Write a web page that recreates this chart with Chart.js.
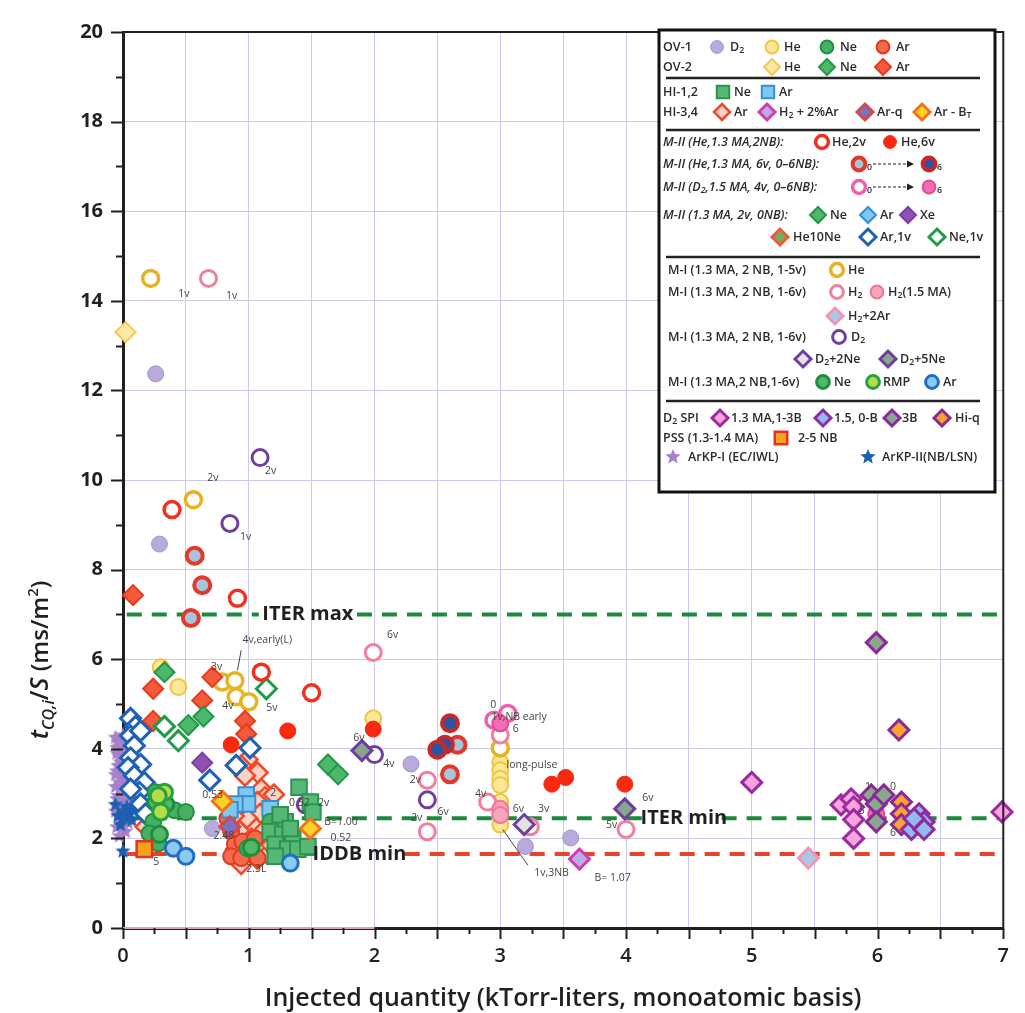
<!DOCTYPE html>
<html>
<head>
<meta charset="utf-8">
<title>Current quench time vs injected quantity</title>
<script src="https://cdn.jsdelivr.net/npm/chart.js@4.4.1/dist/chart.umd.min.js"></script>
<style>
    html, body { margin: 0; padding: 0; background: #fff; }
    canvas { display: block; }
</style>
</head>
<body>
<canvas id="cq-chart" width="1025" height="1013"></canvas>
<script>
'use strict';

// tick labels
var xTickLabels = ['0', '1', '2', '3', '4', '5', '6', '7'];
var yTickLabels = ['0', '2', '4', '6', '8', '10', '12', '14', '16', '18', '20'];

// reference levels (ms/m2)
var iterMax = 7.0;
var iterMin = 2.45;
var iddbMin = 1.65;

// series: [injected quantity, tCQ/S]
var arkp1 = [[-0.06, 4.25], [-0.03, 4.05], [0.0, 4.3], [-0.05, 3.9], [0.02, 3.95], [-0.07, 3.75], [-0.02, 3.7],
    [0.03, 3.6], [-0.05, 3.5], [0.0, 3.45], [-0.08, 3.35], [0.04, 3.3], [-0.03, 3.25], [-0.06, 3.15], [0.01, 3.1],
    [-0.09, 3.05], [0.05, 3.0], [-0.04, 2.95], [-0.01, 2.85], [-0.07, 2.8], [0.03, 2.75], [-0.03, 2.7], [0.06, 2.65],
    [-0.06, 2.6], [0.0, 2.55], [-0.02, 2.4], [0.04, 2.35], [-0.05, 2.25], [0.02, 2.15], [-0.03, 2.05], [0.05, 3.8],
    [-0.01, 3.35], [0.07, 3.2], [-0.04, 4.15], [0.02, 2.9], [-0.08, 2.45], [0.01, 4.15], [-0.02, 3.98],
    [0.04, 3.85], [-0.04, 3.62], [0.02, 3.52], [-0.06, 3.42], [0.06, 3.4], [-0.02, 3.18], [0.03, 3.05],
    [-0.05, 2.88], [0.06, 2.85], [-0.01, 2.62], [-0.07, 2.98], [0.01, 3.65], [-0.05, 4.02], [0.07, 2.95],
    [-0.03, 2.5], [0.03, 2.5], [-0.08, 3.6], [0.05, 3.55], [-0.03, 3.82], [0.0, 2.25]];
var arkp2 = [[0.0, 1.71], [-0.08, 2.6], [-0.04, 2.5], [0.02, 2.45], [-0.06, 2.75], [0.05, 2.55], [0.09, 2.65],
    [-0.02, 2.3], [0.07, 2.4], [-0.07, 1.95], [0.03, 2.7], [-0.09, 2.35], [0.0, 2.6]];
var ov1D2 = [[0.26, 12.37], [0.29, 8.57], [0.71, 2.22], [2.29, 3.66], [3.20, 1.82], [3.56, 2.01]];
var ov1He = [[0.44, 5.38], [0.30, 5.82], [1.99, 4.68], [3.0, 3.70], [3.0, 3.52], [3.0, 3.33], [3.0, 3.19],
    [3.0, 2.81], [3.0, 2.31]];
var ov2He = [[0.02, 13.3]];
var hi34Ar = [[0.99, 3.76], [0.94, 3.62], [1.07, 3.47], [0.97, 3.40], [1.10, 3.10], [1.13, 2.92], [1.07, 2.81],
    [1.09, 2.55], [0.99, 2.44], [1.06, 2.22], [0.93, 2.15], [1.02, 2.00], [1.11, 2.15], [1.07, 1.54], [1.15, 1.65],
    [0.94, 1.43], [0.90, 1.76], [0.18, 2.26], [1.20, 2.98], [0.88, 2.50], [1.18, 1.85]];
var ov1Ar = [[0.86, 2.15], [0.89, 1.87], [0.86, 1.60], [0.94, 1.56], [0.95, 1.93], [1.07, 1.56], [1.05, 2.00],
    [0.83, 2.45]];
var ov2Ar = [[0.08, 7.43], [0.24, 5.34], [0.71, 5.60], [0.63, 5.08], [0.24, 4.62], [0.97, 4.62], [0.98, 4.33]];
var ov2Ne = [[0.33, 5.71], [0.52, 4.53], [0.64, 4.72], [1.63, 3.65], [1.71, 3.43]];
var mIINe1v = [[0.33, 4.50], [0.44, 4.18], [1.14, 5.34]];
var mIIAr1v = [[0.06, 4.68], [0.10, 4.50], [0.06, 4.29], [0.14, 4.40], [0.09, 4.07], [0.06, 3.80], [0.14, 3.65],
    [0.04, 3.58], [0.09, 3.40], [0.17, 3.25], [0.13, 3.03], [0.06, 3.10], [0.14, 2.77], [0.18, 2.55],
    [1.01, 4.02], [0.90, 3.63], [0.69, 3.30]];
var mIIXe = [[0.63, 3.69]];
var hi12Ar = [[0.98, 2.97], [0.99, 2.77], [0.89, 2.77], [0.85, 2.64], [1.17, 2.66]];
var hi34Arq = [[0.85, 2.26]];
var hi34ArBT = [[1.49, 2.22], [0.79, 2.83]];
var hi34H2Ar = [[3.63, 1.54]];
var ov1Ne = [[0.26, 3.03], [0.41, 2.63], [0.50, 2.59], [0.24, 2.37], [0.21, 2.11], [0.28, 1.89], [0.99, 1.78],
    [1.17, 2.37], [1.27, 2.12]];
var mINe = [[0.34, 2.77], [0.29, 2.09], [0.26, 2.81], [1.02, 1.80]];
var mIRMP = [[0.33, 3.03], [0.30, 2.59], [0.28, 2.95]];
var hi12Ne = [[1.40, 3.14], [1.49, 2.81], [1.51, 2.59], [1.29, 2.37], [1.17, 2.15], [1.27, 2.09], [1.35, 2.00],
    [1.21, 1.87], [1.31, 1.76], [1.39, 1.76], [1.47, 1.82], [1.21, 1.60], [1.25, 2.53], [1.33, 2.22]];
var mIAr = [[0.40, 1.78], [0.50, 1.60], [1.33, 1.45]];
var pss = [[0.17, 1.76]];
var mIIHe2v = [[0.39, 9.34], [0.91, 7.36], [1.10, 5.71], [1.50, 5.25]];
var mIIHe6v = [[0.86, 4.09], [1.31, 4.40], [1.99, 4.44], [3.41, 3.21], [3.52, 3.36], [3.99, 3.21]];
var mIIHeNB0 = [[0.57, 8.31], [0.63, 7.65], [0.54, 6.92], [2.66, 4.09], [2.60, 3.43]];
var mIIHeNB6 = [[2.60, 4.57], [2.56, 4.09], [2.50, 3.98]];
var mIID2NB0 = [[2.95, 4.64], [3.06, 4.79]];
var mIID2NB6 = [[3.0, 4.57], [5.99, 2.55]];
var mIHe = [[0.22, 14.5], [0.56, 9.56], [0.79, 5.49], [0.89, 5.52], [0.90, 5.16], [1.0, 5.05], [3.0, 4.02]];
var mIH2 = [[0.68, 14.5], [1.99, 6.15], [2.42, 3.30], [2.42, 2.15], [2.90, 2.81], [3.24, 2.26], [4.0, 2.20],
    [3.0, 4.31]];
var mIH2b = [[3.0, 2.66], [3.0, 2.52]];
var mIH2Ar = [[5.45, 1.56]];
var mID2 = [[0.85, 9.03], [1.09, 10.5], [2.0, 3.87], [2.42, 2.86], [1.45, 2.75]];
var mID2Ne2 = [[3.19, 2.31]];
var mID2Ne5 = [[1.90, 3.96], [3.99, 2.66]];
var spi13 = [[5.0, 3.25], [5.71, 2.75], [5.79, 2.88], [5.81, 2.70], [5.81, 2.42], [5.81, 2.0], [6.99, 2.59]];
var spi15 = [[6.33, 2.55], [6.37, 2.37], [6.27, 2.20], [6.37, 2.20], [6.29, 2.44]];
var spi3B = [[5.99, 6.37], [5.95, 2.97], [5.99, 2.77], [6.05, 2.97], [5.99, 2.37]];
var spiHiq = [[6.17, 4.42], [6.19, 2.81], [6.19, 2.55], [6.19, 2.31]];

var gridColor = '#c9c9f2';
var inkColor = '#231f20';
var fontFamily = "'Open Sans', 'Noto Sans', sans-serif";

function starImage(size, fill) {
    var c = document.createElement('canvas');
    c.width = size;
    c.height = size;
    var g = c.getContext('2d');
    var r = size / 2, ri = r * 0.45;
    g.beginPath();
    for (var i = 0; i < 10; i++) {
        var a = -Math.PI / 2 + i * Math.PI / 5;
        var rr = i % 2 ? ri : r;
        g.lineTo(r + rr * Math.cos(a), r + rr * Math.sin(a));
    }
    g.closePath();
    g.fillStyle = fill;
    g.fill();
    return c;
}

// marker styles: shape, radius, fill, border, border width
var styles = {
    arkp1: {shape: starImage(16, '#a781c9'), r: 8, bg: '#a781c9', bd: '#a781c9', bw: 0},
    arkp2: {shape: starImage(16, '#1d5fb2'), r: 8, bg: '#1d5fb2', bd: '#1d5fb2', bw: 0},
    ov1D2: {shape: 'circle', r: 8, bg: '#b9aadb', bd: '#a494cc', bw: 1},
    ov1He: {shape: 'circle', r: 8, bg: '#f9e995', bd: '#eec54a', bw: 2},
    ov1Ne: {shape: 'circle', r: 8, bg: '#45b064', bd: '#22913f', bw: 2},
    ov1Ar: {shape: 'circle', r: 8, bg: '#f46a4b', bd: '#e2391f', bw: 2},
    ov2He: {shape: 'rectRot', r: 10, bg: '#fbe9a6', bd: '#f2c95a', bw: 2},
    ov2Ne: {shape: 'rectRot', r: 10, bg: '#4cb86a', bd: '#25964a', bw: 2},
    ov2Ar: {shape: 'rectRot', r: 10, bg: '#f25a3a', bd: '#e53b1e', bw: 2},
    hi12Ne: {shape: 'rect', r: 11, bg: '#55b874', bd: '#2e9350', bw: 2},
    hi12Ar: {shape: 'rect', r: 11, bg: '#7cc8ef', bd: '#3a8dd0', bw: 2},
    hi34Ar: {shape: 'rectRot', r: 10, bg: '#fcd3c6', bd: '#f04a2a', bw: 2.5},
    hi34H2Ar: {shape: 'rectRot', r: 10, bg: '#b9aee3', bd: '#d43cb2', bw: 3},
    hi34Arq: {shape: 'rectRot', r: 10, bg: '#7773c2', bd: '#d44848', bw: 3},
    hi34ArBT: {shape: 'rectRot', r: 10, bg: '#f8d226', bd: '#f2731f', bw: 3},
    mIIHe2v: {shape: 'circle', r: 8, bg: '#ffffff', bd: '#ee3222', bw: 3.5},
    mIIHe6v: {shape: 'circle', r: 8, bg: '#f8290f', bd: '#f8290f', bw: 1},
    mIIHeNB0: {shape: 'circle', r: 8, bg: '#a9c3d9', bd: '#e03a2c', bw: 4},
    mIIHeNB6: {shape: 'circle', r: 8, bg: '#2a55a3', bd: '#c8282a', bw: 4},
    mIID2NB0: {shape: 'circle', r: 8, bg: '#ffffff', bd: '#ef5fae', bw: 3.5},
    mIID2NB6: {shape: 'circle', r: 8, bg: '#f26db2', bd: '#e74a98', bw: 2},
    mIINe: {shape: 'rectRot', r: 10, bg: '#4cb86a', bd: '#25964a', bw: 2},
    mIIAr: {shape: 'rectRot', r: 10, bg: '#7cc8ef', bd: '#3a8dd0', bw: 2},
    mIIXe: {shape: 'rectRot', r: 10, bg: '#8f52b3', bd: '#7b3ea2', bw: 2},
    mIIHe10Ne: {shape: 'rectRot', r: 10, bg: '#6fae63', bd: '#f05a3a', bw: 3},
    mIIAr1v: {shape: 'rectRot', r: 10, bg: '#ffffff', bd: '#1f62b5', bw: 3},
    mIINe1v: {shape: 'rectRot', r: 10, bg: '#ffffff', bd: '#24994a', bw: 3},
    mIHe: {shape: 'circle', r: 8, bg: '#ffffff', bd: '#e6b322', bw: 3.5},
    mIH2: {shape: 'circle', r: 8, bg: '#ffffff', bd: '#f0809d', bw: 3},
    mIH2b: {shape: 'circle', r: 8, bg: '#f7a6b9', bd: '#ee7894', bw: 2},
    mIH2Ar: {shape: 'rectRot', r: 10, bg: '#a9c9ea', bd: '#f197b6', bw: 3},
    mID2: {shape: 'circle', r: 8, bg: '#ffffff', bd: '#6f3f9f', bw: 3},
    mID2Ne2: {shape: 'rectRot', r: 10, bg: '#e3e3e3', bd: '#6f3f9f', bw: 3},
    mID2Ne5: {shape: 'rectRot', r: 10, bg: '#88a68c', bd: '#6f3f9f', bw: 3},
    mINe: {shape: 'circle', r: 8, bg: '#52b868', bd: '#1c8f3c', bw: 3},
    mIRMP: {shape: 'circle', r: 8, bg: '#b4dc44', bd: '#25a043', bw: 3},
    mIAr: {shape: 'circle', r: 8, bg: '#8ccaf1', bd: '#2070c2', bw: 3},
    spi13: {shape: 'rectRot', r: 10, bg: '#f7a4dc', bd: '#9c2ba0', bw: 3},
    spi15: {shape: 'rectRot', r: 10, bg: '#92b9f0', bd: '#8f2ba0', bw: 3},
    spi3B: {shape: 'rectRot', r: 10, bg: '#8ba88f', bd: '#8a2a98', bw: 3},
    spiHiq: {shape: 'rectRot', r: 10, bg: '#f8a232', bd: '#8a2a98', bw: 3},
    pss: {shape: 'rect', r: 11, bg: '#f7a21e', bd: '#e53222', bw: 2.5}
};

// drawing order, bottom first
var series = [
    ['arkp1', arkp1], ['arkp2', arkp2], ['ov1D2', ov1D2], ['ov2He', ov2He], ['ov1He', ov1He], ['mIHe', mIHe],
    ['hi34Ar', hi34Ar], ['ov1Ar', ov1Ar], ['ov2Ar', ov2Ar], ['ov2Ne', ov2Ne], ['mIINe1v', mIINe1v],
    ['mIIAr1v', mIIAr1v], ['mIIXe', mIIXe], ['mIIHe2v', mIIHe2v], ['mIIHe6v', mIIHe6v], ['mIIHeNB0', mIIHeNB0],
    ['mIIHeNB6', mIIHeNB6], ['mIH2', mIH2], ['mIH2b', mIH2b], ['mIID2NB0', mIID2NB0], ['mIID2NB6', mIID2NB6],
    ['mID2', mID2], ['mID2Ne2', mID2Ne2], ['mID2Ne5', mID2Ne5], ['hi12Ar', hi12Ar], ['hi34Arq', hi34Arq],
    ['ov1Ne', ov1Ne], ['mINe', mINe], ['mIRMP', mIRMP], ['hi12Ne', hi12Ne], ['hi34ArBT', hi34ArBT],
    ['mIAr', mIAr], ['pss', pss], ['hi34H2Ar', hi34H2Ar], ['mIH2Ar', mIH2Ar],
    ['spi13', spi13], ['spi3B', spi3B], ['spiHiq', spiHiq], ['spi15', spi15]
];

// small text notes beside points: [text, x, y]
var notes = [
    ['1v', 0.44, 14.15], ['1v', 0.82, 14.1], ['2v', 0.67, 10.05], ['2v', 1.13, 10.2], ['1v', 0.93, 8.72],
    ['6v', 2.10, 6.55], ['4v,early(L)', 0.95, 6.42], ['3v', 0.70, 5.82], ['4v', 0.79, 4.95], ['5v', 1.14, 4.9],
    ['6v', 1.83, 4.25], ['4v', 2.07, 3.66], ['2v', 2.28, 3.3], ['6v', 2.50, 2.6], ['2v', 2.29, 2.46],
    ['0', 2.92, 4.98], ['1v,NB early', 2.93, 4.72], ['6', 3.10, 4.45], ['long-pulse', 3.05, 3.64], ['4v', 2.80, 3.0],
    ['6v', 3.10, 2.66], ['3v', 3.30, 2.66], ['1v,3NB', 3.27, 1.22], ['B= 1.07', 3.75, 1.12], ['6v', 4.13, 2.9],
    ['5v', 3.84, 2.3], ['5', 0.24, 1.48], ['0.53', 0.63, 2.97], ['2.48', 0.72, 2.05], ['2.3L', 0.98, 1.32],
    ['2', 1.17, 3.02], ['0.52', 1.32, 2.78], ['2v', 1.55, 2.78], ['B=1.00', 1.60, 2.36], ['0.52', 1.65, 2.0],
    ['1', 5.90, 3.15], ['0', 6.10, 3.15], ['5', 5.85, 2.62], ['6', 6.10, 2.12]
];
var noteLines = [[0.94, 6.2, 0.91, 5.75], [3.02, 2.2, 3.22, 1.4]];

var datasets = series.map(function (s, i) {
    var st = styles[s[0]];
    return {
        label: s[0],
        data: s[1].map(p => ({x: p[0], y: p[1]})),
        pointStyle: st.shape,
        pointRadius: st.r,
        pointBackgroundColor: st.bg,
        pointBorderColor: st.bd,
        pointBorderWidth: st.bw,
        showLine: false,
        clip: false,
        order: series.length - i
    };
});

function refLine(y, gaps, color) {
    var pts = [{x: 0.03, y: y}];
    gaps.forEach(g => {
        pts.push({x: g[0], y: y});
        pts.push({x: (g[0] + g[1]) / 2, y: null});
        pts.push({x: g[1], y: y});
    });
    pts.push({x: 7, y: y});
    return {
        type: 'line', data: pts, borderColor: color, borderWidth: 4, borderDash: [15, 10],
        pointRadius: 0, spanGaps: false, clip: false, order: 1000
    };
}

datasets.push(refLine(iterMax, [[1.08, 1.86]], '#1b8a3e'));
datasets.push(refLine(iterMin, [[4.16, 4.76]], '#1b8a3e'));
datasets.push(refLine(iddbMin, [[1.52, 2.24]], '#e5432b'));
datasets.push({type: 'line', data: [{x: 0, y: 0}, {x: 2, y: 0}], borderColor: '#d6a6bd', borderWidth: 2,
    pointRadius: 0, clip: false, order: 1001});

function richText(ctx, str, x, y, size, weight, style) {
    // _{..} subscript, ^{..} superscript
    var parts = str.split(/([_^]\{[^}]*\})/).filter(p => p.length);
    var cx = x;
    parts.forEach(p => {
        var fs = size, dy = 0, t = p;
        if (p[0] === '_') { t = p.slice(2, -1); fs = size * 0.7; dy = size * 0.3; }
        if (p[0] === '^') { t = p.slice(2, -1); fs = size * 0.7; dy = -size * 0.38; }
        ctx.font = (style || '') + ' ' + weight + ' ' + fs + 'px ' + fontFamily;
        ctx.fillText(t, cx, y + dy);
        cx += ctx.measureText(t).width;
    });
    return cx - x;
}

function marker(ctx, key, x, y, scale) {
    var st = styles[key];
    ctx.save();
    ctx.fillStyle = st.bg;
    ctx.strokeStyle = st.bd;
    ctx.lineWidth = st.bw;
    Chart.helpers.drawPoint(ctx, {pointStyle: st.shape, radius: st.r * scale, borderWidth: st.bw, rotation: 0}, x, y);
    ctx.restore();
}

// legend layout: [x, y, kind, value]
var legendItems = [
    [663, 47, 't', 'OV-1'], [717, 47, 'm', 'ov1D2'], [730, 47, 't', 'D_{2}'], [772, 47, 'm', 'ov1He'],
    [784, 47, 't', 'He'], [827, 47, 'm', 'ov1Ne'], [840, 47, 't', 'Ne'], [883, 47, 'm', 'ov1Ar'], [896, 47, 't', 'Ar'],
    [663, 67, 't', 'OV-2'], [772, 67, 'm', 'ov2He'], [784, 67, 't', 'He'], [827, 67, 'm', 'ov2Ne'],
    [840, 67, 't', 'Ne'], [883, 67, 'm', 'ov2Ar'], [896, 67, 't', 'Ar'],
    [0, 78, 's'],
    [663, 92, 't', 'HI-1,2'], [723, 92, 'm', 'hi12Ne'], [734, 92, 't', 'Ne'], [768, 92, 'm', 'hi12Ar'],
    [779, 92, 't', 'Ar'],
    [663, 112, 't', 'HI-3,4'], [722, 112, 'm', 'hi34Ar'], [734, 112, 't', 'Ar'], [767, 112, 'm', 'hi34H2Ar'],
    [779, 112, 't', 'H_{2} + 2%Ar'], [865, 112, 'm', 'hi34Arq'], [877, 112, 't', 'Ar-q'],
    [922, 112, 'm', 'hi34ArBT'], [934, 112, 't', 'Ar - B_{T}'],
    [0, 130, 's'],
    [663, 142, 'i', 'M-II (He,1.3 MA,2NB):'], [822, 142, 'm', 'mIIHe2v'], [832, 142, 't', 'He,2v'],
    [890, 142, 'm', 'mIIHe6v'], [901, 142, 't', 'He,6v'],
    [663, 164, 'i', 'M-II (He,1.3 MA, 6v, 0\u20136NB):'], [859, 164, 'm', 'mIIHeNB0'], [867, 164, 't', '_{0}'],
    [873, 164, 'a', 914], [929, 164, 'm', 'mIIHeNB6'], [937, 164, 't', '_{6}'],
    [663, 187, 'i', 'M-II (D_{2},1.5 MA, 4v, 0\u20136NB):'], [859, 187, 'm', 'mIID2NB0'], [867, 187, 't', '_{0}'],
    [873, 187, 'a', 914], [929, 187, 'm', 'mIID2NB6'], [937, 187, 't', '_{6}'],
    [663, 215, 'i', 'M-II (1.3 MA, 2v, 0NB):'], [818, 215, 'm', 'mIINe'], [830, 215, 't', 'Ne'],
    [868, 215, 'm', 'mIIAr'], [880, 215, 't', 'Ar'], [908, 215, 'm', 'mIIXe'], [920, 215, 't', 'Xe'],
    [780, 237, 'm', 'mIIHe10Ne'], [793, 237, 't', 'He10Ne'], [868, 237, 'm', 'mIIAr1v'], [880, 237, 't', 'Ar,1v'],
    [937, 237, 'm', 'mIINe1v'], [949, 237, 't', 'Ne,1v'],
    [0, 257, 's'],
    [668, 270, 't', 'M-I (1.3 MA, 2 NB, 1-5v)'], [837, 270, 'm', 'mIHe'], [848, 270, 't', 'He'],
    [668, 292, 't', 'M-I (1.3 MA, 2 NB, 1-6v)'], [837, 292, 'm', 'mIH2'], [848, 292, 't', 'H_{2}'],
    [877, 292, 'm', 'mIH2b'], [888, 292, 't', 'H_{2}(1.5 MA)'],
    [835, 316, 'm', 'mIH2Ar'], [848, 316, 't', 'H_{2}+2Ar'],
    [668, 337, 't', 'M-I (1.3 MA, 2 NB, 1-6v)'], [839, 337, 'm', 'mID2'], [851, 337, 't', 'D_{2}'],
    [803, 359, 'm', 'mID2Ne2'], [815, 359, 't', 'D_{2}+2Ne'], [888, 359, 'm', 'mID2Ne5'], [900, 359, 't', 'D_{2}+5Ne'],
    [668, 382, 't', 'M-I (1.3 MA,2 NB,1-6v)'], [823, 382, 'm', 'mINe'], [834, 382, 't', 'Ne'],
    [873, 382, 'm', 'mIRMP'], [883, 382, 't', 'RMP'], [932, 382, 'm', 'mIAr'], [943, 382, 't', 'Ar'],
    [0, 401, 's'],
    [663, 418, 't', 'D_{2} SPI'], [720, 418, 'm', 'spi13'], [731, 418, 't', '1.3 MA,1-3B'],
    [823, 418, 'm', 'spi15'], [834, 418, 't', '1.5, 0-B'], [892, 418, 'm', 'spi3B'], [902, 418, 't', '3B'],
    [942, 418, 'm', 'spiHiq'], [955, 418, 't', 'Hi-q'],
    [663, 438, 't', 'PSS (1.3-1.4 MA)'], [781, 438, 'm', 'pss'], [798, 438, 't', '2-5 NB'],
    [673, 457, 'm', 'arkp1'], [688, 457, 't', 'ArKP-I (EC/IWL)'], [868, 457, 'm', 'arkp2'],
    [882, 457, 't', 'ArKP-II(NB/LSN)']
];

var decor = {
    id: 'decor',
    afterDatasetsDraw(chart) {
        var ctx = chart.ctx, xs = chart.scales.x, ys = chart.scales.y;
        ctx.save();
        ctx.fillStyle = inkColor;
        ctx.textBaseline = 'middle';
        ctx.textAlign = 'center';
        ctx.font = '700 20px ' + fontFamily;
        ctx.fillText('ITER max', xs.getPixelForValue(1.47), ys.getPixelForValue(iterMax));
        ctx.fillText('ITER min', xs.getPixelForValue(4.46), ys.getPixelForValue(iterMin));
        ctx.fillText('IDDB min', xs.getPixelForValue(1.88), ys.getPixelForValue(iddbMin));

        ctx.textAlign = 'left';
        ctx.fillStyle = '#444';
        ctx.font = '400 10.5px ' + fontFamily;
        notes.forEach(n => ctx.fillText(n[0], xs.getPixelForValue(n[1]), ys.getPixelForValue(n[2])));
        ctx.strokeStyle = '#444';
        ctx.lineWidth = 1;
        noteLines.forEach(l => {
            ctx.beginPath();
            ctx.moveTo(xs.getPixelForValue(l[0]), ys.getPixelForValue(l[1]));
            ctx.lineTo(xs.getPixelForValue(l[2]), ys.getPixelForValue(l[3]));
            ctx.stroke();
        });
        ctx.restore();
    },
    afterDraw(chart) {
        var ctx = chart.ctx, a = chart.chartArea, xs = chart.scales.x, ys = chart.scales.y;
        ctx.save();
        ctx.strokeStyle = inkColor;

        // frame top / right
        ctx.lineWidth = 2;
        ctx.beginPath();
        ctx.moveTo(a.left, a.top);
        ctx.lineTo(a.right, a.top);
        ctx.lineTo(a.right, a.bottom);
        ctx.stroke();

        // tick marks
        ctx.lineWidth = 2;
        for (var v = 0; v <= 7; v += 0.25) {
            var px = Math.round(xs.getPixelForValue(v)) + 0.5;
            var len = v % 0.5 === 0 ? 11 : 6;
            ctx.beginPath();
            ctx.moveTo(px, a.bottom);
            ctx.lineTo(px, a.bottom + len);
            ctx.stroke();
        }
        for (var k = 0; k <= 20; k++) {
            var py = Math.round(ys.getPixelForValue(k)) + 0.5;
            ctx.beginPath();
            ctx.moveTo(a.left, py);
            ctx.lineTo(a.left - (k % 2 === 0 ? 12 : 7), py);
            ctx.stroke();
        }

        // axis titles
        ctx.fillStyle = inkColor;
        ctx.textBaseline = 'alphabetic';
        ctx.textAlign = 'left';
        var xt = 'Injected quantity (kTorr-liters, monoatomic basis)';
        ctx.font = '600 25px ' + fontFamily;
        ctx.fillText(xt, (a.left + a.right) / 2 - ctx.measureText(xt).width / 2, 1006);

        ctx.translate(48, 660);
        ctx.rotate(-Math.PI / 2);
        var pieces = [['t', 25, 'italic 600', 0], ['CQ,i', 16, 'italic 600', 6], ['/', 25, '600', 0],
            ['S', 25, 'italic 600', 0], [' (ms/m', 24, '600', 0], ['2', 15, '600', -10], [')', 24, '600', 0]];
        var total = 0;
        pieces.forEach(p => { ctx.font = p[2] + ' ' + p[1] + 'px ' + fontFamily; total += ctx.measureText(p[0]).width; });
        var cx = -total / 2;
        pieces.forEach(p => {
            ctx.font = p[2] + ' ' + p[1] + 'px ' + fontFamily;
            ctx.fillText(p[0], cx, p[3]);
            cx += ctx.measureText(p[0]).width;
        });
        ctx.restore();

        // legend box
        ctx.save();
        ctx.fillStyle = '#fff';
        ctx.fillRect(659, 30, 336, 462);
        ctx.strokeStyle = '#111';
        ctx.lineWidth = 3;
        ctx.strokeRect(659, 30, 336, 462);
        ctx.textBaseline = 'middle';
        ctx.textAlign = 'left';
        legendItems.forEach(it => {
            if (it[2] === 's') {
                ctx.strokeStyle = '#222';
                ctx.lineWidth = 2.5;
                ctx.beginPath();
                ctx.moveTo(666, it[1]);
                ctx.lineTo(980, it[1]);
                ctx.stroke();
            } else if (it[2] === 'm') {
                marker(ctx, it[3], it[0], it[1], 0.8);
            } else if (it[2] === 'a') {
                ctx.strokeStyle = '#222';
                ctx.lineWidth = 1.2;
                ctx.setLineDash([3, 2]);
                ctx.beginPath();
                ctx.moveTo(it[0], it[1]);
                ctx.lineTo(it[3] - 6, it[1]);
                ctx.stroke();
                ctx.setLineDash([]);
                ctx.fillStyle = '#222';
                ctx.beginPath();
                ctx.moveTo(it[3], it[1]);
                ctx.lineTo(it[3] - 7, it[1] - 3.5);
                ctx.lineTo(it[3] - 7, it[1] + 3.5);
                ctx.fill();
            } else {
                ctx.fillStyle = '#2a2a2a';
                richText(ctx, it[3], it[0], it[1], 12.5, '600', it[2] === 'i' ? 'italic' : '');
            }
        });
        ctx.restore();
    }
};

Chart.defaults.font.family = fontFamily;

var cqChart = new Chart(document.getElementById('cq-chart'), {
    type: 'scatter',
    data: {datasets: datasets},
    options: {
        responsive: false,
        animation: false,
        devicePixelRatio: 1,
        layout: {padding: {top: 18, right: 17, left: 0, bottom: 0}},
        plugins: {legend: {display: false}, tooltip: {enabled: false}},
        scales: {
            x: {
                type: 'linear', min: 0, max: 7,
                border: {color: inkColor, width: 3},
                grid: {
                    color: c => (c.tick && c.tick.value % 0.5 === 0) ? gridColor : 'rgba(0,0,0,0)',
                    lineWidth: 1, drawTicks: false
                },
                ticks: {
                    stepSize: 0.25, autoSkip: false, maxRotation: 0, padding: 16, color: inkColor,
                    font: {size: 20, weight: '600'},
                    callback: v => Number.isInteger(v) ? xTickLabels[v] : ''
                },
                afterFit: s => { s.height = 85; }
            },
            y: {
                type: 'linear', min: 0, max: 20,
                border: {color: inkColor, width: 3},
                grid: {
                    color: c => (c.tick && c.tick.value % 2 === 0) ? gridColor : 'rgba(0,0,0,0)',
                    lineWidth: 1, drawTicks: false
                },
                ticks: {
                    stepSize: 1, autoSkip: false, padding: 20, color: inkColor,
                    font: {size: 20, weight: '700'},
                    callback: v => v % 2 === 0 ? yTickLabels[v / 2] : ''
                },
                afterFit: s => { s.width = 123; }
            }
        }
    },
    plugins: [decor]
});
</script>
</body>
</html>
